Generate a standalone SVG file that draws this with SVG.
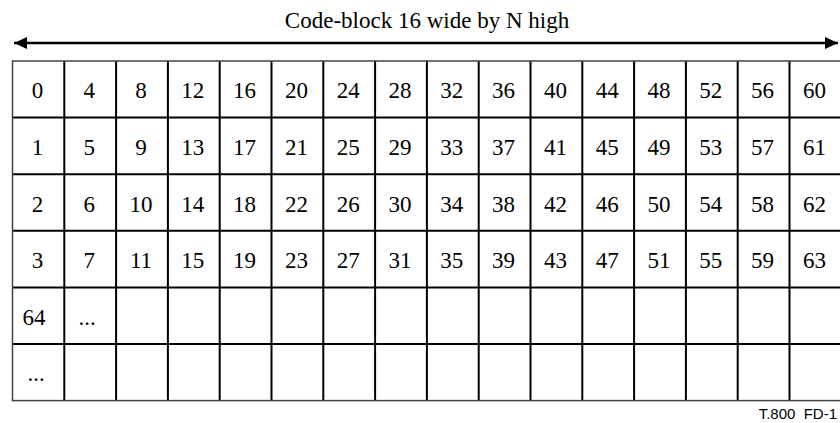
<svg xmlns="http://www.w3.org/2000/svg" width="840" height="423" viewBox="0 0 840 423">
<style>
.t{font-family:"Liberation Serif","Times New Roman",serif;font-size:23px;fill:#000;text-anchor:middle}
.g{stroke:#000;stroke-width:2;fill:none}
.o{stroke:#444;stroke-width:1.5;fill:none}
.a{stroke:#000;stroke-width:2.6;fill:none}
.f{font-family:"Liberation Sans",Arial,sans-serif;font-size:15px;fill:#000}
</style>
<defs>
<marker id="ah" markerUnits="userSpaceOnUse" markerWidth="14" markerHeight="13" refX="13" refY="6.5" orient="auto-start-reverse">
<path d="M0,0.5 L13,6.5 L0,12.5 Z" fill="#000"/>
</marker>
</defs>
<rect width="840" height="423" fill="#fff"/>
<text class="t" x="427" y="28">Code-block 16 wide by N high</text>
<g id="connectors">
<line class="a" x1="14" y1="43" x2="838" y2="43" marker-start="url(#ah)" marker-end="url(#ah)"/>
</g>
<g id="grid">
<path class="g" d="M64.3,61V400.6M116.1,61V400.6M167.9,61V400.6M219.7,61V400.6M271.5,61V400.6M323.3,61V400.6M375.1,61V400.6M426.9,61V400.6M478.7,61V400.6M530.5,61V400.6M582.3,61V400.6M634.1,61V400.6M685.9,61V400.6M737.7,61V400.6M789.5,61V400.6"/>
<path class="g" d="M12.5,117.6H841M12.5,174.2H841M12.5,230.8H841M12.5,287.4H841M12.5,344H841"/>
<rect class="o" x="12.5" y="61" width="829" height="339.6"/>
</g>
<g id="row0">
<g id="c0"><text class="t" x="37.4" y="98.3">0</text></g>
<g id="c4"><text class="t" x="89.2" y="98.3">4</text></g>
<g id="c8"><text class="t" x="141" y="98.3">8</text></g>
<g id="c12"><text class="t" x="192.8" y="98.3">12</text></g>
<g id="c16"><text class="t" x="244.6" y="98.3">16</text></g>
<g id="c20"><text class="t" x="296.4" y="98.3">20</text></g>
<g id="c24"><text class="t" x="348.2" y="98.3">24</text></g>
<g id="c28"><text class="t" x="400" y="98.3">28</text></g>
<g id="c32"><text class="t" x="451.8" y="98.3">32</text></g>
<g id="c36"><text class="t" x="503.6" y="98.3">36</text></g>
<g id="c40"><text class="t" x="555.4" y="98.3">40</text></g>
<g id="c44"><text class="t" x="607.2" y="98.3">44</text></g>
<g id="c48"><text class="t" x="659" y="98.3">48</text></g>
<g id="c52"><text class="t" x="710.8" y="98.3">52</text></g>
<g id="c56"><text class="t" x="762.6" y="98.3">56</text></g>
<g id="c60"><text class="t" x="814.4" y="98.3">60</text></g>
</g>
<g id="row1">
<g id="c1"><text class="t" x="37.4" y="154.9">1</text></g>
<g id="c5"><text class="t" x="89.2" y="154.9">5</text></g>
<g id="c9"><text class="t" x="141" y="154.9">9</text></g>
<g id="c13"><text class="t" x="192.8" y="154.9">13</text></g>
<g id="c17"><text class="t" x="244.6" y="154.9">17</text></g>
<g id="c21"><text class="t" x="296.4" y="154.9">21</text></g>
<g id="c25"><text class="t" x="348.2" y="154.9">25</text></g>
<g id="c29"><text class="t" x="400" y="154.9">29</text></g>
<g id="c33"><text class="t" x="451.8" y="154.9">33</text></g>
<g id="c37"><text class="t" x="503.6" y="154.9">37</text></g>
<g id="c41"><text class="t" x="555.4" y="154.9">41</text></g>
<g id="c45"><text class="t" x="607.2" y="154.9">45</text></g>
<g id="c49"><text class="t" x="659" y="154.9">49</text></g>
<g id="c53"><text class="t" x="710.8" y="154.9">53</text></g>
<g id="c57"><text class="t" x="762.6" y="154.9">57</text></g>
<g id="c61"><text class="t" x="814.4" y="154.9">61</text></g>
</g>
<g id="row2">
<g id="c2"><text class="t" x="37.4" y="211.5">2</text></g>
<g id="c6"><text class="t" x="89.2" y="211.5">6</text></g>
<g id="c10"><text class="t" x="141" y="211.5">10</text></g>
<g id="c14"><text class="t" x="192.8" y="211.5">14</text></g>
<g id="c18"><text class="t" x="244.6" y="211.5">18</text></g>
<g id="c22"><text class="t" x="296.4" y="211.5">22</text></g>
<g id="c26"><text class="t" x="348.2" y="211.5">26</text></g>
<g id="c30"><text class="t" x="400" y="211.5">30</text></g>
<g id="c34"><text class="t" x="451.8" y="211.5">34</text></g>
<g id="c38"><text class="t" x="503.6" y="211.5">38</text></g>
<g id="c42"><text class="t" x="555.4" y="211.5">42</text></g>
<g id="c46"><text class="t" x="607.2" y="211.5">46</text></g>
<g id="c50"><text class="t" x="659" y="211.5">50</text></g>
<g id="c54"><text class="t" x="710.8" y="211.5">54</text></g>
<g id="c58"><text class="t" x="762.6" y="211.5">58</text></g>
<g id="c62"><text class="t" x="814.4" y="211.5">62</text></g>
</g>
<g id="row3">
<g id="c3"><text class="t" x="37.4" y="268.1">3</text></g>
<g id="c7"><text class="t" x="89.2" y="268.1">7</text></g>
<g id="c11"><text class="t" x="141" y="268.1">11</text></g>
<g id="c15"><text class="t" x="192.8" y="268.1">15</text></g>
<g id="c19"><text class="t" x="244.6" y="268.1">19</text></g>
<g id="c23"><text class="t" x="296.4" y="268.1">23</text></g>
<g id="c27"><text class="t" x="348.2" y="268.1">27</text></g>
<g id="c31"><text class="t" x="400" y="268.1">31</text></g>
<g id="c35"><text class="t" x="451.8" y="268.1">35</text></g>
<g id="c39"><text class="t" x="503.6" y="268.1">39</text></g>
<g id="c43"><text class="t" x="555.4" y="268.1">43</text></g>
<g id="c47"><text class="t" x="607.2" y="268.1">47</text></g>
<g id="c51"><text class="t" x="659" y="268.1">51</text></g>
<g id="c55"><text class="t" x="710.8" y="268.1">55</text></g>
<g id="c59"><text class="t" x="762.6" y="268.1">59</text></g>
<g id="c63"><text class="t" x="814.4" y="268.1">63</text></g>
</g>
<g id="row4">
<g id="c64"><text class="t" x="34" y="324.7">64</text></g>
<g id="c65"><text class="t" x="87" y="324.7">...</text></g>
</g>
<g id="row5">
<g id="c128"><text class="t" x="36" y="381.3">...</text></g>
</g>
<text class="f" x="837" y="419" text-anchor="end" xml:space="preserve">T.800  FD-1</text>
</svg>
